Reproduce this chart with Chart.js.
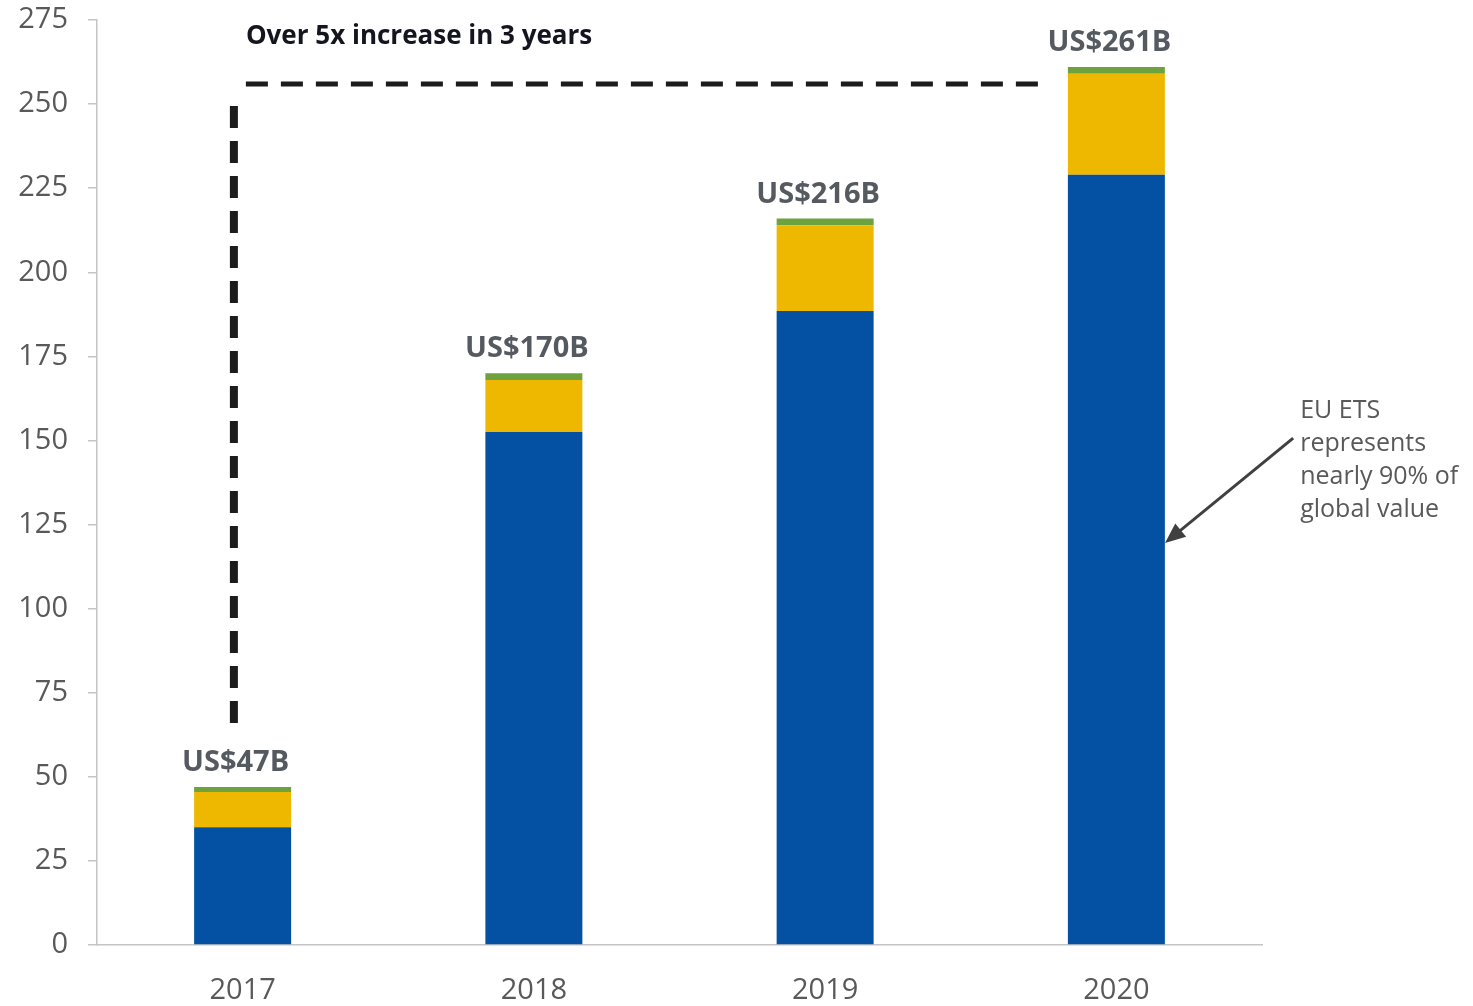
<!DOCTYPE html>
<html>
<head>
<meta charset="utf-8">
<title>Global carbon market value</title>
<script src="https://cdn.jsdelivr.net/npm/chart.js@4.4.1/dist/chart.umd.min.js"></script>
<style>
  html, body { margin: 0; padding: 0; background: #fff; }
  #wrap { width: 1473px; height: 1006px; position: relative; }
</style>
</head>
<body>
<div id="wrap"><canvas id="marketChart" width="1473" height="1006"></canvas></div>
<script>
// Market value by year, US$ billions
const years = ['2017', '2018', '2019', '2020'];
const euEts = [35, 152.5, 188.5, 229];
const otherMarkets = [10.5, 15.5, 25.5, 30];
const remainder = [1.5, 2, 2, 2];
const totalLabels = ['US$47B', 'US$170B', 'US$216B', 'US$261B'];
const yTicks = [0, 25, 50, 75, 100, 125, 150, 175, 200, 225, 250, 275];

// dashed bracket from 2017 up and across toward 2020 (x = category index, y = value)
const bracketX = [-0.03, 2.77];
const bracketY = [66, 256];
const bracketText = 'Over 5x increase in 3 years';

// callout arrow toward the EU ETS segment of 2020
const arrowFrom = [3.607, 150.7];
const arrowTo = [3.167, 119.5];
const noteLines = ['EU ETS', 'represents', 'nearly 90% of', 'global value'];

const FONT = "'Open Sans', 'DejaVu Sans', sans-serif";

const annotations = {
  id: 'annotations',
  afterDatasetsDraw(chart) {
    const ctx = chart.ctx;
    const x = chart.scales.x, y = chart.scales.y;
    ctx.save();

    // totals above each bar
    const meta = chart.getDatasetMeta(2);
    ctx.font = 'bold 29px ' + FONT;
    ctx.fillStyle = '#555a60';
    ctx.textAlign = 'center';
    ctx.textBaseline = 'middle';
    meta.data.forEach((bar, i) => {
      ctx.fillText(totalLabels[i], bar.x - 7, bar.y - 24);
    });

    // dashed bracket
    const vx = x.getPixelForValue(bracketX[0]);
    const hx = x.getPixelForValue(bracketX[1]);
    const yTop = y.getPixelForValue(bracketY[1]);
    const yBot = y.getPixelForValue(bracketY[0]);
    ctx.strokeStyle = '#1c1c1c';
    ctx.setLineDash([22, 13]);
    ctx.lineWidth = 8;
    ctx.beginPath();
    ctx.moveTo(vx, yBot);
    ctx.lineTo(vx, yTop + 12);
    ctx.stroke();
    ctx.lineWidth = 5;
    ctx.beginPath();
    ctx.moveTo(vx + 12, yTop);
    ctx.lineTo(hx, yTop);
    ctx.stroke();
    ctx.setLineDash([]);

    ctx.font = 'bold 26px ' + FONT;
    ctx.fillStyle = '#15151f';
    ctx.textAlign = 'left';
    ctx.fillText(bracketText, vx + 12, y.getPixelForValue(270));

    // arrow + note
    const ax0 = x.getPixelForValue(arrowFrom[0]), ay0 = y.getPixelForValue(arrowFrom[1]);
    const ax1 = x.getPixelForValue(arrowTo[0]), ay1 = y.getPixelForValue(arrowTo[1]);
    const ang = Math.atan2(ay1 - ay0, ax1 - ax0);
    const head = 22;
    ctx.strokeStyle = '#404040';
    ctx.fillStyle = '#404040';
    ctx.lineWidth = 3;
    ctx.beginPath();
    ctx.moveTo(ax0, ay0);
    ctx.lineTo(ax1 - Math.cos(ang) * head * 0.8, ay1 - Math.sin(ang) * head * 0.8);
    ctx.stroke();
    ctx.beginPath();
    ctx.moveTo(ax1, ay1);
    ctx.lineTo(ax1 - head * Math.cos(ang - 0.4), ay1 - head * Math.sin(ang - 0.4));
    ctx.lineTo(ax1 - head * Math.cos(ang + 0.4), ay1 - head * Math.sin(ang + 0.4));
    ctx.closePath();
    ctx.fill();

    ctx.font = '25px ' + FONT;
    ctx.fillStyle = '#595959';
    ctx.textAlign = 'left';
    noteLines.forEach((line, i) => {
      ctx.fillText(line, ax0 + 7, ay0 - 27 + i * 33);
    });

    ctx.restore();
  }
};

function draw() {
  Chart.defaults.font.family = FONT;
  Chart.defaults.color = '#595959';

  new Chart(document.getElementById('marketChart'), {
    type: 'bar',
    data: {
      labels: years,
      datasets: [
        { label: 'EU ETS', data: euEts, backgroundColor: '#0450a3' },
        { label: 'Other markets', data: otherMarkets, backgroundColor: '#eeb700' },
        { label: 'Rest', data: remainder, backgroundColor: '#6ea23e' }
      ]
    },
    options: {
      responsive: false,
      animation: false,
      events: [],
      layout: { padding: { top: 20, right: 211, bottom: 0, left: 0 } },
      datasets: { bar: { categoryPercentage: 1, barPercentage: 0.333 } },
      plugins: { legend: { display: false }, tooltip: { enabled: false } },
      scales: {
        x: {
          stacked: true,
          grid: { display: false },
          border: { display: true, color: '#c4c4c4', width: 1.5 },
          ticks: { font: { size: 29 }, padding: 20, color: '#595959' },
          afterFit(scale) {
            scale.height = 61;
            scale.paddingLeft = 0;
            scale.paddingRight = 0;
          }
        },
        y: {
          stacked: true,
          min: 0,
          max: 275,
          afterBuildTicks(scale) { scale.ticks = yTicks.map(v => ({ value: v })); },
          grid: { drawOnChartArea: false, drawTicks: true, tickLength: 9, color: '#c4c4c4', lineWidth: 1.5 },
          border: { display: true, color: '#c4c4c4', width: 1.5 },
          ticks: { font: { size: 29 }, padding: 20, color: '#595959' },
          afterFit(scale) {
            scale.width = 97;
            scale.paddingTop = 0;
            scale.paddingBottom = 0;
          }
        }
      }
    },
    plugins: [annotations]
  });
}

Promise.all([
  document.fonts.load("29px 'Open Sans'"),
  document.fonts.load("bold 29px 'Open Sans'")
]).then(draw, draw);
</script>
</body>
</html>
